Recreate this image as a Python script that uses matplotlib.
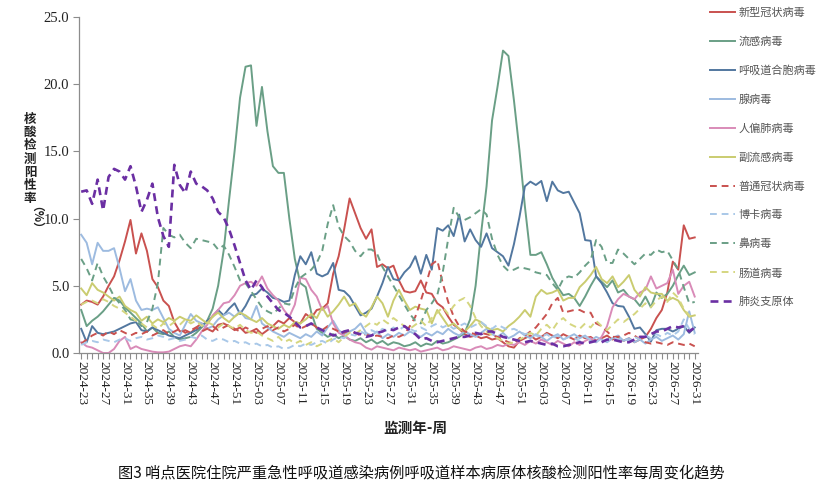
import matplotlib
matplotlib.use("Agg")
import matplotlib.pyplot as plt
from matplotlib.ticker import FixedLocator, FormatStrFormatter

# weekly categories 2024-23 .. 2026-31
weeks = []
for yr, w0, w1 in [(2024, 23, 52), (2025, 1, 52), (2026, 1, 31)]:
    for w in range(w0, w1 + 1):
        weeks.append("%d-%02d" % (yr, w))

tick_labels = ["2024-23", "2024-27", "2024-31", "2024-35", "2024-39", "2024-43",
               "2024-47", "2024-51", "2025-03", "2025-07", "2025-11", "2025-15",
               "2025-19", "2025-23", "2025-27", "2025-31", "2025-35", "2025-39",
               "2025-43", "2025-47", "2025-51", "2026-03", "2026-07", "2026-11",
               "2026-15", "2026-19", "2026-23", "2026-27", "2026-31"]

covid = [3.6, 3.9, 3.8, 3.6, 4.2, 5.0, 5.7, 6.9, 8.3, 9.9,
         7.4, 8.9, 7.6, 5.5, 4.9, 3.9, 3.5, 2.3, 1.6, 1.7,
         1.5, 1.9, 2.2, 1.8, 1.6, 2.1, 2.2, 2.0, 1.7, 1.9,
         1.5, 1.6, 1.8, 1.4, 1.7, 2.0, 2.4, 2.2, 2.6, 2.3,
         2.2, 2.9, 2.6, 3.2, 3.3, 3.7, 5.9, 7.2, 9.2, 11.5,
         10.4, 9.3, 8.5, 9.2, 6.4, 6.6, 6.3, 6.5, 5.4, 4.6,
         4.5, 4.6, 5.4, 4.5, 4.4, 3.7, 3.4, 2.7, 2.1, 1.8,
         1.4, 1.2, 1.3, 1.1, 1.2, 1.0, 1.1, 0.8, 0.5, 0.4,
         0.9, 1.1, 1.3, 1.0, 1.2, 1.5, 1.3, 1.1, 1.4, 1.2,
         1.0, 1.3, 1.1, 1.2, 0.9, 1.1, 1.3, 1.0, 1.2, 0.9,
         1.1, 0.8, 1.0, 1.2, 1.8, 2.6, 3.2, 4.5, 6.8, 6.2, 9.5, 8.5, 8.6]

flu = [3.2, 2.0, 2.4, 2.7, 3.1, 3.6, 4.1, 3.9, 3.4, 3.0,
       2.6, 2.2, 1.6, 1.9, 1.5, 1.4, 1.6, 1.2, 1.0, 1.1,
       1.2, 1.5, 1.9, 2.4, 3.3, 5.0, 7.6, 11.4, 15.0, 19.0,
       21.3, 21.4, 16.9, 19.8, 16.5, 13.9, 13.4, 13.4, 10.0, 7.0,
       5.2, 4.9, 3.0, 1.8, 1.5, 1.2, 1.4, 1.1, 1.3, 1.0,
       0.9, 1.1, 0.8, 1.0, 0.7, 0.9, 0.6, 0.8, 0.7, 0.5,
       0.6, 0.8, 0.5, 0.7, 0.6, 0.9, 0.7, 0.8, 1.0, 1.2,
       1.5, 2.5, 5.0, 8.9, 12.4, 17.3, 19.8, 22.5, 22.1, 18.8,
       15.1, 10.9, 7.3, 7.3, 7.5, 6.6, 5.6, 4.9, 4.3, 4.4,
       4.1, 3.5, 4.2, 5.0, 5.7, 5.3, 4.9, 5.4, 4.5, 4.7,
       4.2, 4.0, 3.5, 4.2, 3.4, 4.5, 4.1, 4.4, 5.0, 5.8, 6.5, 5.8, 6.0]

rsv = [1.8, 0.8, 2.0, 1.5, 1.4, 1.5, 1.6, 1.8, 2.0, 2.2,
       2.3, 1.7, 1.6, 1.9, 1.7, 1.5, 1.3, 1.2, 1.1, 1.3,
       1.5, 1.7, 2.0, 2.4, 2.7, 3.2, 2.8, 3.3, 3.7, 2.9,
       3.5, 4.3, 4.4, 4.8, 4.5, 4.1, 4.0, 3.8, 3.9, 5.8,
       7.2, 6.6, 7.5, 5.9, 5.7, 5.9, 6.7, 4.7, 4.6, 4.2,
       3.5, 2.8, 3.0, 3.3, 4.2, 5.2, 6.4, 5.5, 5.4, 6.0,
       6.4, 7.2, 5.9, 7.3, 6.2, 9.3, 9.1, 9.5, 8.7, 10.3,
       8.3, 9.2, 8.4, 7.9, 8.9, 7.8, 7.5, 7.2, 6.5, 8.1,
       10.1, 12.4, 12.75, 12.5, 12.8, 11.3, 12.75, 12.1, 11.9, 12.0,
       11.2, 10.4, 8.4, 8.35, 5.7, 5.2, 4.5, 3.7, 3.5, 3.45,
       2.7, 1.8, 1.9, 1.4, 0.85, 1.7, 1.8, 1.8, 1.6, 1.8, 2.0, 1.5, 1.9]

adeno = [8.8, 8.2, 6.6, 8.2, 7.6, 7.6, 7.8, 6.3, 4.6, 5.5,
         3.9, 3.2, 3.3, 3.2, 3.4, 2.6, 1.8, 1.5, 1.3, 2.1,
         2.9, 2.4, 2.2, 1.8, 2.0, 2.5, 2.8, 3.0, 2.7, 3.1,
         2.6, 2.5, 3.5, 2.2, 1.9, 1.6, 1.4, 1.2, 1.5, 1.3,
         1.1, 1.4, 1.2, 1.6, 1.3, 1.9, 2.4, 1.7, 1.4, 1.6,
         1.8, 2.2, 1.5, 1.3, 1.6, 1.1, 1.4, 1.2, 1.5, 1.3,
         1.6, 1.4, 1.2, 1.5, 1.3, 1.6, 1.4, 1.8, 1.5, 1.3,
         1.6, 1.4, 1.2, 1.5, 1.8, 1.4, 1.2, 1.5, 1.1, 1.3,
         1.6, 1.3, 1.1, 1.4, 1.2, 0.9, 1.2, 1.4, 1.0, 1.2,
         1.4, 1.1, 1.3, 0.9, 1.2, 1.0, 0.8, 1.1, 1.3, 0.9,
         1.1, 0.8, 1.0, 0.7, 1.0, 1.2, 0.9, 1.1, 1.3, 1.0, 1.4, 3.1, 1.5]

hmpv = [0.8, 0.5, 0.4, 0.2, 0.0, 0.0, 0.3, 0.9, 1.2, 0.3,
        0.5, 0.3, 0.2, 0.1, 0.05, 0.05, 0.1, 0.3, 0.5, 0.6,
        0.5, 1.0, 1.6, 2.1, 2.8, 3.2, 3.7, 3.8, 4.3, 5.0,
        5.2, 5.3, 5.0, 5.7, 4.8, 4.3, 3.9, 3.2, 2.7, 3.6,
        5.6, 5.5, 4.7, 4.2, 3.2, 3.5, 2.2, 1.5, 1.3, 1.0,
        0.8, 0.7, 0.4, 0.25, 0.5, 0.4, 0.3, 0.2, 0.4, 0.3,
        0.2, 0.3, 0.1, 0.2, 0.3, 0.4, 0.2, 0.3, 0.5, 0.4,
        0.3, 0.2, 0.4, 0.5, 0.3, 0.4, 0.6, 0.5, 0.7, 0.6,
        0.8, 0.6, 0.9, 0.7, 1.0, 0.8, 0.6, 0.9, 0.7, 0.5,
        0.8, 0.6, 0.9, 1.1, 0.8, 1.2, 2.0, 3.4, 4.0, 4.4,
        4.2, 4.0, 4.5, 4.7, 5.7, 4.8, 5.0, 5.2, 6.2, 4.4, 5.0, 5.3, 4.2]

para = [4.8, 4.3, 5.2, 4.7, 4.5, 4.2, 3.9, 4.2, 3.5, 3.2,
        3.0, 2.4, 2.7, 2.2, 2.5, 2.3, 2.6, 2.4, 2.7, 2.5,
        2.4, 2.8, 2.5, 2.2, 2.7, 3.0, 2.6, 2.3, 2.7, 3.0,
        2.8, 2.5, 2.3, 2.6, 2.2, 2.0, 1.8, 2.1, 1.9, 2.3,
        2.2, 2.5, 2.9, 2.6, 3.4, 2.7, 3.1, 3.6, 4.2, 3.5,
        3.7, 3.0, 2.7, 3.4, 4.2, 3.7, 2.7, 3.9, 4.7, 3.9,
        3.2, 3.45, 3.3, 3.2, 2.2, 3.2, 2.6, 2.0, 2.2, 1.8,
        1.6, 2.0, 2.5, 2.3, 1.9, 1.7, 1.8, 1.6, 2.0, 2.3,
        2.7, 3.2, 2.7, 4.2, 4.7, 4.4, 4.5, 4.7, 3.9, 4.1,
        4.1, 4.9, 5.3, 5.8, 6.4, 5.5, 5.2, 5.7, 4.9, 5.3,
        5.8, 4.7, 4.2, 4.9, 4.5, 4.4, 4.4, 3.9, 4.1, 3.9, 3.2, 2.7, 2.8]

hcov = [0.7, 1.0, 1.3, 1.5, 1.3, 1.6, 1.4, 1.7, 1.5, 1.3,
        1.5, 1.4, 1.6, 1.3, 1.5, 1.7, 1.4, 1.6, 1.8, 1.5,
        1.7, 1.9, 1.6, 1.8, 2.0, 1.7, 1.9, 2.1, 1.8, 1.6,
        1.9, 1.7, 1.5, 1.8, 2.0, 1.7, 1.9, 1.6, 1.8, 2.1,
        1.8, 2.0, 2.2, 1.9, 1.7, 2.0, 1.8, 1.6, 1.5, 1.7,
        1.5, 1.3, 1.4, 1.2, 1.3, 1.2, 1.1, 1.3, 1.2, 1.4,
        2.0, 2.7, 3.9, 5.2, 6.6, 6.9, 5.2, 3.8, 2.7, 2.0,
        1.6, 1.5, 1.4, 1.5, 1.4, 1.3, 1.2, 1.0, 0.8, 0.7,
        1.1, 1.3, 1.6, 1.9, 2.4, 2.9, 3.7, 4.1, 3.0, 3.1,
        3.2, 3.2, 3.0, 3.0, 2.2, 2.0, 1.6, 1.2, 1.2, 1.3,
        1.5, 1.3, 1.0, 0.8, 0.7, 0.8, 0.7, 0.6, 0.8, 0.7, 0.6, 0.7, 0.5]

boca = [0.6, 0.8, 0.9, 0.8, 1.0, 0.9, 0.8, 1.0, 1.1, 0.9,
        1.1, 1.2, 1.0, 1.1, 1.3, 1.2, 1.0, 1.1, 0.9, 1.0,
        1.2, 1.1, 1.3, 1.0, 0.9, 1.1, 1.0, 0.8, 0.9, 0.7,
        0.8, 0.6, 0.7, 0.5, 0.6, 0.4, 0.5, 0.3, 0.4, 0.6,
        0.5, 0.7, 0.6, 0.8, 0.9, 0.7, 1.0, 1.2, 1.1, 1.4,
        1.3, 1.6, 1.4, 1.7, 1.5, 1.8, 1.6, 1.9, 1.7, 2.0,
        1.8, 1.6, 1.9, 1.7, 2.0, 2.2, 1.9, 2.1, 1.8, 2.0,
        2.2, 1.9, 2.1, 2.3, 2.0, 1.8, 2.1, 1.9, 1.7, 1.8,
        1.6, 1.4, 1.5, 1.3, 1.2, 1.4, 1.1, 1.3, 1.0, 1.2,
        1.1, 0.9, 1.2, 1.0, 0.8, 1.1, 0.9, 1.2, 1.0, 1.1,
        0.9, 1.2, 1.0, 1.3, 1.1, 1.4, 1.2, 1.5, 1.3, 1.6, 2.5, 1.8, 1.4]

rhino = [7.0, 6.3, 5.4, 6.7, 5.7, 5.0, 4.2, 3.7, 3.2, 2.5,
         2.4, 2.0, 2.3, 3.3, 5.2, 9.3, 8.8, 8.6, 8.8, 8.2,
         7.8, 8.5, 8.4, 8.3, 8.2, 7.7, 8.0, 7.3, 6.4, 5.4,
         5.2, 4.6, 4.0, 3.4, 3.1, 2.9, 3.3, 3.7, 3.6, 4.8,
         5.6, 5.9, 6.2, 6.7, 7.6, 9.6, 11.0, 9.4, 8.7, 8.3,
         7.6, 7.2, 7.7, 7.7, 7.4, 6.4, 5.7, 5.0, 4.3, 3.6,
         2.9, 2.4, 2.2, 3.2, 3.7, 4.3, 6.0, 8.5, 10.8, 10.1,
         9.9, 10.1, 10.4, 10.7, 10.3, 8.5, 7.3, 6.5, 6.1, 6.2,
         6.4, 6.3, 6.2, 6.0, 5.9, 5.8, 5.2, 4.7, 5.5, 5.7,
         5.6, 6.0, 6.5, 6.9, 8.4, 7.9, 6.7, 6.7, 7.7, 7.4,
         7.0, 6.6, 7.0, 7.4, 7.3, 7.7, 7.5, 7.6, 6.9, 6.2, 4.9, 3.7, 3.8]

entero = [3.6, 3.8, 3.9, 3.7, 4.0, 3.8, 3.5, 3.3, 3.0, 2.7,
          2.4, 2.2, 1.9, 2.1, 1.8, 2.2, 2.0, 2.3, 2.1, 2.5,
          2.2, 2.4, 2.0, 2.3, 2.1, 1.9, 2.2, 2.0, 1.8, 2.1,
          1.7, 1.5, 1.6, 1.3, 1.1, 0.9, 1.2, 0.8, 1.0, 0.7,
          0.9, 0.6, 0.8, 0.5, 0.7, 0.9, 1.1, 0.8, 1.2, 1.5,
          1.4, 1.7, 2.0, 2.3, 2.1, 2.5, 2.2, 2.6, 2.3, 2.0,
          1.8, 2.1, 2.4, 2.0, 2.6, 3.0, 3.4, 2.9, 3.5, 3.9,
          4.1, 3.5, 2.6, 2.0, 1.6, 1.3, 1.1, 0.9, 0.7, 0.8,
          1.0, 1.2, 1.5, 1.3, 1.8, 2.1, 1.7, 2.3, 2.6, 2.2,
          2.0, 1.8, 2.2, 1.9, 2.4, 2.0, 1.7, 2.1, 2.5, 2.3,
          2.6, 2.9, 3.3, 3.7, 3.4, 3.9, 4.2, 3.8, 4.5, 4.1, 3.3, 2.8, 2.5]

myco = [12.0, 12.1, 11.1, 12.9, 10.6, 13.1, 13.7, 13.5, 12.9, 13.9,
        12.4, 10.5, 11.4, 12.6, 10.1, 8.7, 7.9, 14.0, 12.5, 11.9,
        13.5, 12.6, 12.4, 12.1, 11.5, 10.5, 10.1, 9.2, 8.0, 6.7,
        5.4, 4.7, 5.4, 4.9, 4.2, 3.7, 3.2, 3.0, 2.7, 2.3,
        1.9, 2.0, 2.2, 1.9, 1.7, 1.5, 1.3, 1.4, 1.6, 1.7,
        1.5, 1.4, 1.2, 1.3, 1.5, 1.6, 1.8, 1.7, 1.9, 2.0,
        1.7, 1.4, 1.0, 1.1, 0.9, 0.8, 0.9, 1.0, 1.1, 1.2,
        1.2, 1.3, 1.5, 1.4, 1.6, 1.6, 1.4, 1.2, 1.1, 1.0,
        0.9, 0.8, 0.9, 0.8, 0.7, 0.6, 0.7, 0.5, 0.5, 0.6,
        0.7, 0.8, 0.7, 0.8, 0.9, 0.8, 1.0, 1.0, 0.9, 0.8,
        0.8, 1.0, 1.2, 1.2, 1.4, 1.6, 1.6, 1.8, 2.0, 1.9, 2.0, 1.6, 1.9]

names = ["新型冠状病毒", "流感病毒", "呼吸道合胞病毒", "腺病毒", "人偏肺病毒", "副流感病毒",
         "普通冠状病毒", "博卡病毒", "鼻病毒", "肠道病毒", "肺炎支原体"]
series = [covid, flu, rsv, adeno, hmpv, para, hcov, boca, rhino, entero, myco]
colors = ["#C9514F", "#6A9F86", "#52779F", "#9DBBE0", "#D98BB8", "#CACC70",
          "#C9514F", "#A9C8E8", "#6A9F86", "#D5D680", "#6B2FA3"]

plt.rcParams["font.family"] = ["Noto Sans CJK SC", "DejaVu Sans"]

fig = plt.figure(figsize=(8.2, 4.94), dpi=100)
ax = fig.add_axes([79 / 820, 1 - 353 / 494, (698 - 79) / 820, (353 - 17) / 494])

x = list(range(len(weeks)))
for k, (name, vals, col) in enumerate(zip(names, series, colors)):
    if k < 6:
        ax.plot(x, vals, color=col, lw=1.4, label=name)
    elif k == 10:
        ax.plot(x, vals, color=col, lw=1.9, linestyle=(0, (3.0, 2.0)), label=name)
    else:
        ax.plot(x, vals, color=col, lw=1.4, linestyle=(0, (3.5, 2.5)), label=name)

ax.set_xlim(-0.4, 112.6)
ax.set_ylim(0, 25)
ax.set_yticks([0, 5, 10, 15, 20, 25])
ax.yaxis.set_major_formatter(FormatStrFormatter("%.1f"))

major = [weeks.index(t) for t in tick_labels]
ax.xaxis.set_major_locator(FixedLocator(major))
ax.xaxis.set_minor_locator(FixedLocator(x))
ax.set_xticklabels(tick_labels, rotation=-90, fontsize=9.5, family="Liberation Serif", color="#222222")
for lab in ax.get_yticklabels():
    lab.set_family("Liberation Serif")
    lab.set_fontsize(10.5)
    lab.set_color("#222222")

for s in ["top", "right"]:
    ax.spines[s].set_visible(False)
for s in ["left", "bottom"]:
    ax.spines[s].set_color("#8c8c8c")
    ax.spines[s].set_linewidth(0.9)
ax.tick_params(axis="both", which="both", direction="out", color="#8c8c8c", width=0.8)
ax.tick_params(axis="x", which="both", length=4, pad=2)
ax.tick_params(axis="y", length=4, pad=3)

# vertical y label
fig.text(30 / 820, 1 - 159 / 494, "\n".join("核酸检测阳性率"), ha="center", va="center",
         fontsize=9, fontweight="bold", color="#222222", linespacing=1.02)
fig.text(30 / 820, 1 - 223 / 494, "（%）", ha="center", va="center", rotation=-90,
         fontsize=8.5, fontweight="bold", color="#222222")

fig.text(415 / 820, 1 - 428 / 494, "监测年-周", ha="center", va="center",
         fontsize=10.5, fontweight="bold", color="#222222")
fig.text(421 / 820, 1 - 473 / 494,
         "图3 哨点医院住院严重急性呼吸道感染病例呼吸道样本病原体核酸检测阳性率每周变化趋势",
         ha="center", va="center", fontsize=11, color="#111111")

leg = fig.legend(loc="upper left", bbox_to_anchor=(703 / 820, 1.0), frameon=False,
                 fontsize=8, labelspacing=1.66, handlelength=2.2, handletextpad=0.35,
                 borderaxespad=0.2, borderpad=0.45)
for t in leg.get_texts():
    t.set_color("#555555")

fig.savefig("out.png", dpi=100)
